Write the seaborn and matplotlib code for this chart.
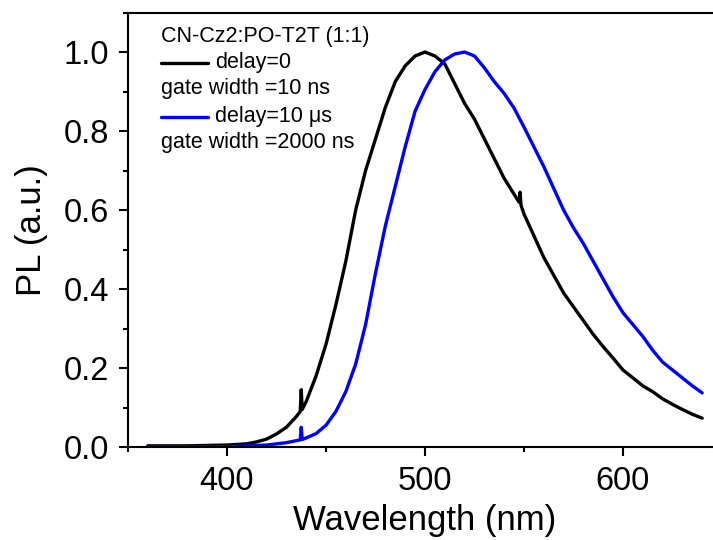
import matplotlib
matplotlib.use("Agg")
import matplotlib.pyplot as plt
import seaborn as sns
import pandas as pd
from matplotlib.ticker import MultipleLocator, FormatStrFormatter
from matplotlib.lines import Line2D

# Widmo PL, delay=0, gate width 10 ns
wl_prompt = [360, 380, 400, 410, 415, 420, 425, 430, 435, 437, 437.5, 438, 440, 445,
             450, 455, 460, 465, 470, 475, 480, 485, 490, 495, 500, 505, 510, 515,
             520, 525, 530, 535, 540, 545, 547.5, 548, 548.5, 550, 555, 560, 565, 570,
             575, 580, 585, 590, 595, 600, 605, 610, 615, 620, 625, 630, 635, 640]
pl_prompt = [0.003, 0.003, 0.005, 0.008, 0.013, 0.020, 0.033, 0.050, 0.077, 0.090, 0.145, 0.095, 0.115, 0.180,
             0.260, 0.360, 0.470, 0.600, 0.700, 0.780, 0.860, 0.925, 0.965, 0.990, 1.000, 0.990, 0.970, 0.920,
             0.870, 0.830, 0.780, 0.730, 0.680, 0.640, 0.620, 0.645, 0.612, 0.590, 0.535, 0.480, 0.435, 0.390,
             0.355, 0.320, 0.285, 0.254, 0.225, 0.195, 0.175, 0.155, 0.140, 0.122, 0.108, 0.095, 0.083, 0.073]

# Widmo PL, delay=10 us, gate width 2000 ns
wl_delayed = [360, 400, 420, 430, 437, 437.5, 438, 440, 445, 450, 455, 460, 465, 470,
              475, 480, 485, 490, 495, 500, 505, 510, 515, 520, 525, 530, 535, 540,
              545, 550, 555, 560, 565, 570, 575, 580, 585, 590, 595, 600, 605, 610,
              615, 620, 625, 630, 635, 640]
pl_delayed = [0.001, 0.001, 0.005, 0.011, 0.018, 0.050, 0.019, 0.023, 0.034, 0.055, 0.090, 0.140, 0.210, 0.310,
              0.440, 0.560, 0.660, 0.760, 0.850, 0.905, 0.950, 0.980, 0.995, 1.000, 0.990, 0.960, 0.925, 0.895,
              0.858, 0.810, 0.760, 0.710, 0.655, 0.600, 0.555, 0.515, 0.470, 0.425, 0.380, 0.340, 0.310, 0.280,
              0.245, 0.215, 0.195, 0.175, 0.155, 0.137]

legend_title = "CN-Cz2:PO-T2T (1:1)"
legend_rows = [("delay=0", "black"), ("gate width =10 ns", None),
               ("delay=10 \u03bcs", "#0000FF"), ("gate width =2000 ns", None)]

sns.set_style("ticks")
plt.rcParams['font.family'] = ['Liberation Sans', 'DejaVu Sans']
plt.rcParams['text.color'] = 'black'
plt.rcParams['axes.labelcolor'] = 'black'
plt.rcParams['xtick.color'] = 'black'
plt.rcParams['ytick.color'] = 'black'

fig = plt.figure(figsize=(7.13, 5.40), dpi=100)
ax = fig.add_axes([0.1795, 0.1722, 0.8331, 0.8046])

df1 = pd.DataFrame({'wl': wl_prompt, 'pl': pl_prompt})
df2 = pd.DataFrame({'wl': wl_delayed, 'pl': pl_delayed})
sns.lineplot(data=df1, x='wl', y='pl', ax=ax, color='black', lw=2.4, sort=False)
sns.lineplot(data=df2, x='wl', y='pl', ax=ax, color='#0000FF', lw=2.4, sort=False)

ax.set_xlim(350, 650)
ax.set_ylim(0, 1.1)
ax.xaxis.set_major_locator(MultipleLocator(100))
ax.xaxis.set_minor_locator(MultipleLocator(50))
ax.yaxis.set_major_locator(MultipleLocator(0.2))
ax.yaxis.set_minor_locator(MultipleLocator(0.1))
ax.yaxis.set_major_formatter(FormatStrFormatter('%.1f'))

for side in ['left', 'bottom', 'top']:
    ax.spines[side].set_linewidth(1.5)
    ax.spines[side].set_color('black')
ax.spines['right'].set_visible(False)

ax.tick_params(which='major', direction='out', length=6.5, width=1.5, labelsize=23.5, pad=7)
ax.tick_params(which='minor', direction='out', length=3.5, width=1.5)
ax.tick_params(top=False, right=False, which='both')

ax.set_xlabel('Wavelength (nm)', fontsize=25, labelpad=5)
ax.set_ylabel('PL (a.u.)', fontsize=25, labelpad=11)

# legenda w stylu Origin
x0 = 0.0556
ys = [0.944, 0.884, 0.824, 0.760, 0.700]
ax.text(x0, ys[0], legend_title, transform=ax.transAxes, fontsize=15.5, va='center', ha='left')
for (label, col), y in zip(legend_rows, ys[1:]):
    if col is None:
        ax.text(x0, y, label, transform=ax.transAxes, fontsize=15.5, va='center', ha='left')
    else:
        ax.add_line(Line2D([x0, x0 + 0.079], [y, y], transform=ax.transAxes, color=col, lw=2.4))
        ax.text(x0 + 0.091, y, label, transform=ax.transAxes, fontsize=15.5, va='center', ha='left')

fig.savefig('out.png', dpi=100)
